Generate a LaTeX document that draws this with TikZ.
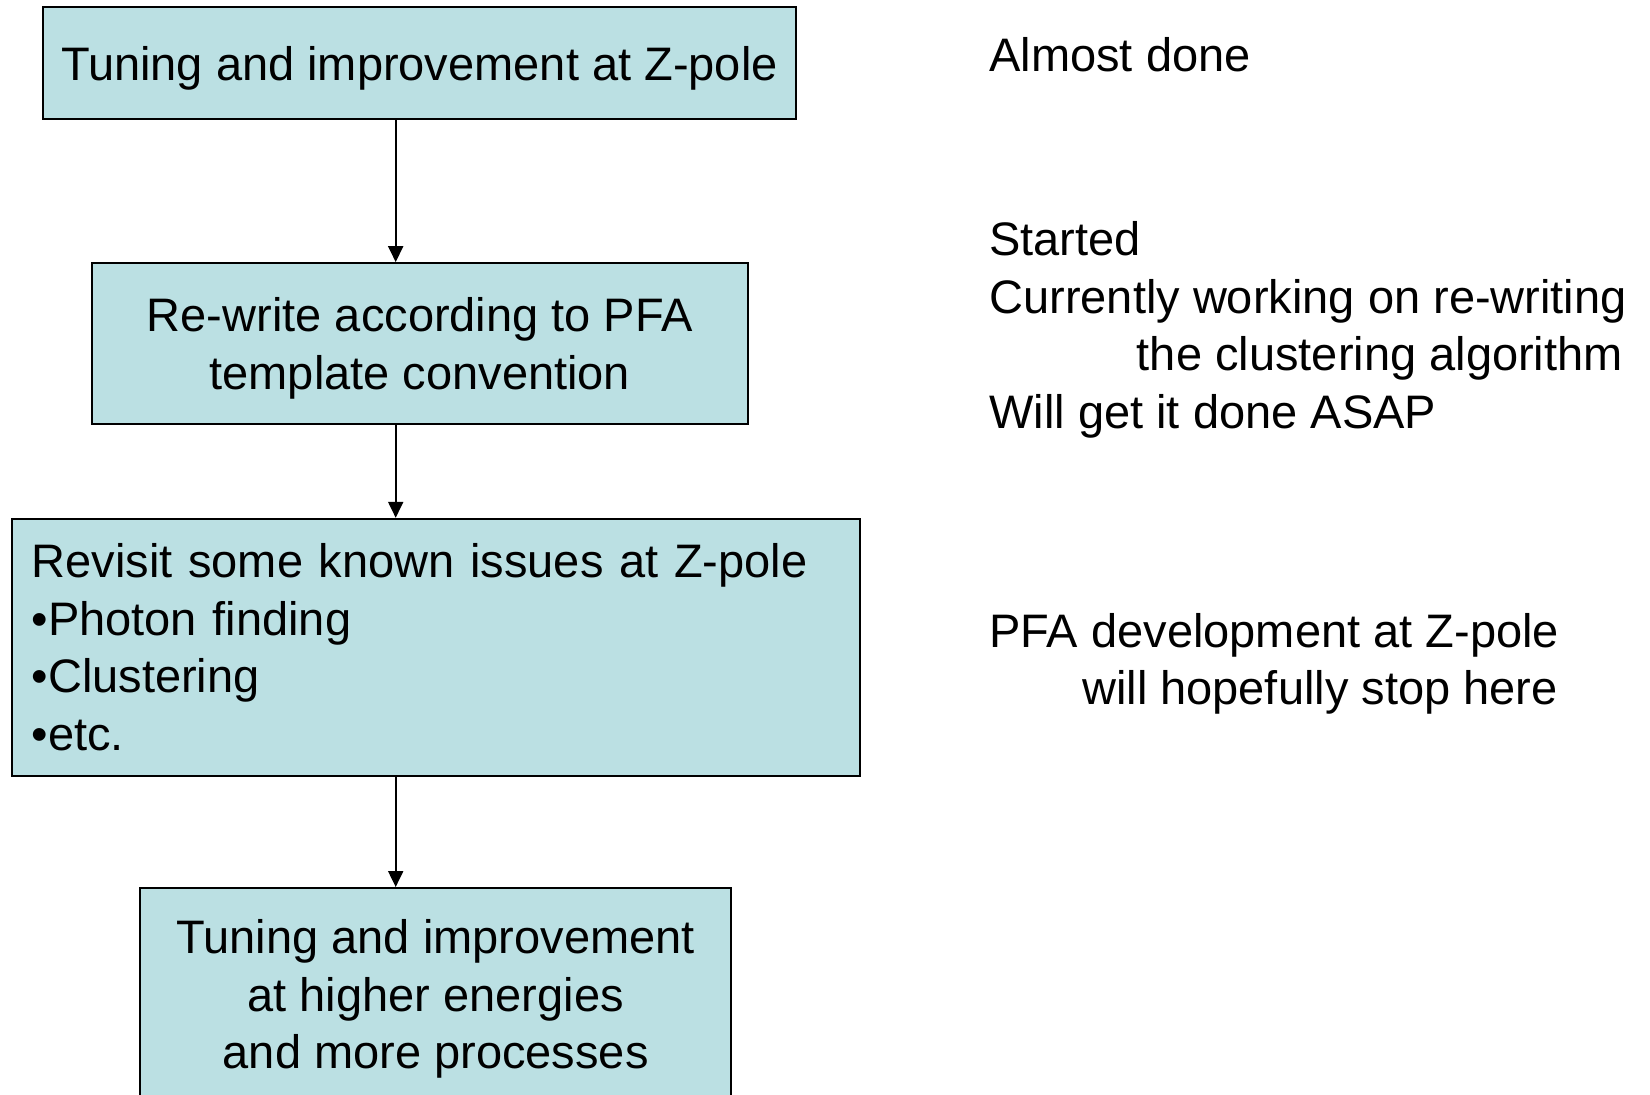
\documentclass[tikz,border=0pt]{standalone}
\usepackage{fontspec}
\setmainfont{Liberation Sans}
\usepackage{tikz}
\usetikzlibrary{calc, positioning, arrows.meta}
\definecolor{boxfill}{RGB}{187,224,227}

\tikzset{
  flowbox/.style={draw, rectangle, fill=boxfill, line width=1pt, inner xsep=6pt,
    font=\fontsize{23.5}{28.75}\selectfont},
  centerbox/.style={flowbox, align=center, text depth=0pt},
  flowarrow/.style={-{Triangle[length=8pt, width=7.5pt]}, line width=1pt},
  note/.style={anchor=west, inner sep=0pt, align=left, font=\fontsize{23.5}{28.75}\selectfont}
}

\begin{document}
\begin{tikzpicture}[x=0.5pt, y=-0.5pt]
      \useasboundingbox (0, 0) rectangle (1650, 1094);
      \clip (0, 0) rectangle (1650, 1094);
      \coordinate (axis) at (395.7, 0);
      \node[centerbox, minimum width=376.3pt, minimum height=55.75pt] (zpole) at (419.4, 63.2) {Tuning and improvement at Z-pole};
      \node[centerbox, minimum width=328.4pt, minimum height=80.5pt] (rewrite) at (419.9, 343.6) {Re-write according to PFA\\template convention};
      \node[flowbox, minimum width=424pt, minimum height=128.4pt, inner xsep=10pt, text width=404pt, align=left] (revisit) at (435.7, 647.2) {Revisit some known issues at Z-pole\\•Photon finding\\•Clustering\\•etc.};
      \node[centerbox, minimum width=295.6pt, minimum height=106pt] (higher) at (435.7, 994) {Tuning and improvement\\at higher energies\\and more processes};
      \draw[flowarrow] (zpole.south -| axis) -- (rewrite.north -| axis);
      \draw[flowarrow] (rewrite.south -| axis) -- (revisit.north -| axis);
      \draw[flowarrow] (revisit.south -| axis) -- (higher.north -| axis);
      % status notes
      \node[note] (done) at (989, 54.7) {Almost done};
      \node[note] (started) at (989, 330) {Started\\Currently working on re-writing\\\hspace*{73.75pt}the clustering algorithm\\Will get it done ASAP};
      \node[note] (stop) at (989, 664) {PFA development at Z-pole\\\hspace*{46.4pt}will hopefully stop here};
\end{tikzpicture}
\end{document}
